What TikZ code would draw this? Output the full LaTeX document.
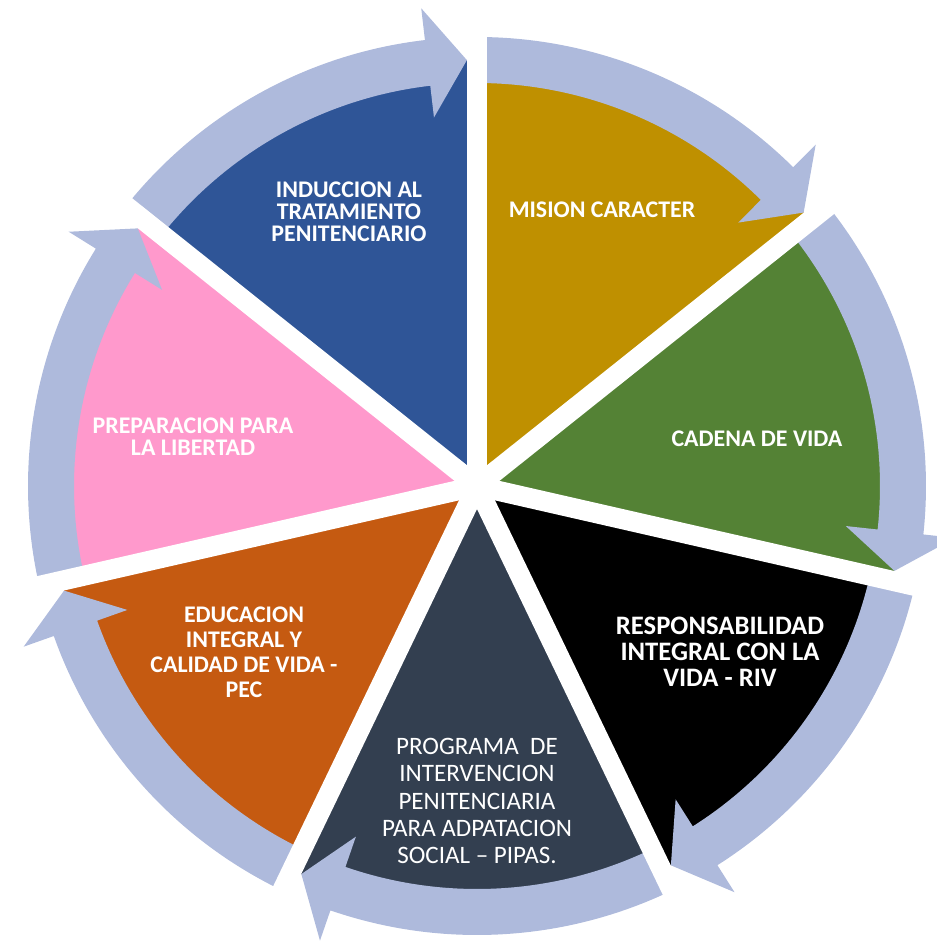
\documentclass[tikz,border=0pt]{standalone}
\usepackage{fontspec}
\setmainfont{Carlito}
\definecolor{ringblue}{RGB}{174,186,220}
\definecolor{segblue}{RGB}{47,85,151}
\definecolor{seggold}{RGB}{191,144,0}
\definecolor{seggreen}{RGB}{84,130,53}
\definecolor{segblack}{RGB}{0,0,0}
\definecolor{segslate}{RGB}{51,63,80}
\definecolor{segorange}{RGB}{197,90,17}
\definecolor{segpink}{RGB}{255,153,204}

\begin{document}
\begin{tikzpicture}[
  x=0.75pt, y=0.75pt,
  seglabel/.style={text=white, align=center,
    font=\bfseries\fontsize{17.9pt}{16.5pt}\selectfont},
  seglabelwide/.style={text=white, align=center,
    font=\bfseries\fontsize{17.9pt}{18.75pt}\selectfont},
  seglabelplain/.style={text=white, align=center,
    font=\fontsize{18.8pt}{20.5pt}\selectfont},
]
\useasboundingbox (-477,-455) rectangle (460,486);
\foreach \c [count=\i] in {seggold,seggreen,segblack,segslate,segorange,segpink,segblue}{
  \pgfmathsetmacro\aa{90-(\i-1)*360/7}
  \pgfmathsetmacro\ab{\aa-360/7}
  \fill[\c] (0,0) -- (\aa:426) arc[start angle=\aa, end angle=\ab, radius=426] -- cycle;
}
\foreach \i in {1,...,7}{
  \pgfmathsetmacro\aa{90-(\i-1)*360/7}
  \pgfmathsetmacro\ae{\aa-360/7+1.36}
  \pgfmathsetmacro\ah{\ae+5.3}
  \fill[ringblue] (\aa:403) arc[start angle=\aa, end angle=\ah, radius=403]
    -- (\ah:371) -- (\ae:426) -- (\ah:481) -- (\ah:449)
    arc[start angle=\ah, end angle=\aa, radius=449] -- cycle;
}
\foreach \i in {1,...,7}{
  \pgfmathsetmacro\aa{90-(\i-1)*360/7}
  \draw[white, line width=15pt] (0,0) -- (\aa:462);
}
\node[seglabel] (induccion) at (-128,274) {INDUCCION AL\\TRATAMIENTO\\PENITENCIARIO};
\node[seglabel] (mision) at (125,276) {MISION CARACTER};
\node[seglabel] (cadena) at (280,47) {CADENA DE VIDA};
\node[seglabelwide, font=\bfseries\fontsize{20pt}{19.5pt}\selectfont] (responsabilidad) at (243,-166) {RESPONSABILIDAD\\INTEGRAL CON LA\\VIDA - RIV};
\node[seglabelplain] (pipas) at (0,-315) {PROGRAMA~ DE\\INTERVENCION\\PENITENCIARIA\\PARA ADPATACION\\SOCIAL – PIPAS.};
\node[seglabelwide] (educacion) at (-233,-166) {EDUCACION\\INTEGRAL Y\\CALIDAD DE VIDA -\\PEC};
\node[seglabel] (preparacion) at (-284,49) {PREPARACION PARA\\LA LIBERTAD};
\end{tikzpicture}
\end{document}
